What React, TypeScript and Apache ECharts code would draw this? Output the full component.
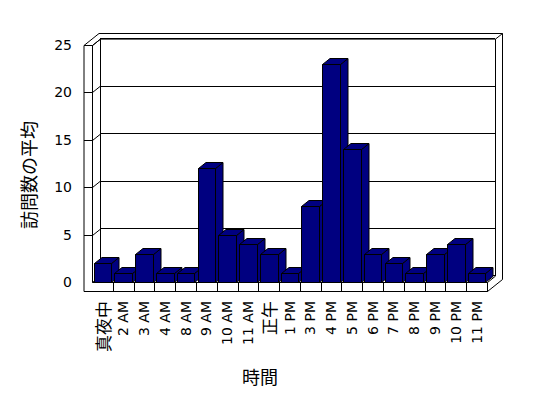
import React, { useEffect, useRef } from "react";
import * as echarts from "echarts";

const categories = [
  "真夜中", "2 AM", "3 AM", "4 AM", "8 AM", "9 AM", "10 AM", "11 AM", "正午",
  "1 PM", "3 PM", "4 PM", "5 PM", "6 PM", "7 PM", "8 PM", "9 PM", "10 PM", "11 PM",
];
const visits = [2, 1, 3, 1, 1, 12, 5, 4, 3, 1, 8, 23, 14, 3, 2, 1, 3, 4, 1];
const yTicks = [0, 5, 10, 15, 20, 25];
const yAxisTitle = "訪問数の平均";
const xAxisTitle = "時間";

// 3D geometry (pixels)
const DX = 8; // front plane -> back plane
const DY = 6.4;
const WALL = 8.5; // left wall thickness
const FLOOR = 9; // floor thickness
const EX = 7; // back wall thickness
const EY = 5.6;
const BDX = 7.5; // bar depth
const BDY = 6;
const BAR_RATIO = 0.85;

const LINE = { stroke: "#000", lineWidth: 1 };
const seg = (x1: number, y1: number, x2: number, y2: number) => ({
  type: "line",
  shape: { x1, y1, x2, y2 },
  style: LINE,
});

export default function App() {
  const ref = useRef<HTMLDivElement>(null);
  useEffect(() => {
    document.body.style.margin = "0";
    const chart = echarts.init(ref.current!, null, { renderer: "svg" });
    const option: any = {
      animation: false,
      backgroundColor: "#fff",
      grid: [
        { left: 92, top: 45, width: 395, height: 237, outerBoundsMode: "none" },
        { left: 92 + DX, top: 45 - DY, width: 395, height: 237, outerBoundsMode: "none" },
      ],
      xAxis: [
        {
          type: "category",
          gridIndex: 0,
          data: categories,
          axisLine: { show: false },
          axisTick: { show: false },
          splitLine: { show: false },
          axisLabel: {
            rotate: 90,
            margin: 19,
            interval: 0,
            color: "#000",
            fontFamily: "DejaVu Sans",
            fontSize: 14,
            formatter: (v: string) => (/[^\x00-\x7F]/.test(v) ? `{cjk|${v}}` : v),
            rich: {
              cjk: { fontFamily: "Noto Sans CJK JP", fontSize: 17, color: "#000" },
            },
          },
        },
        { type: "category", gridIndex: 1, data: categories, show: false },
      ],
      yAxis: [
        {
          type: "value",
          gridIndex: 0,
          min: 0,
          max: 25,
          interval: 5,
          axisLine: { show: false },
          axisTick: { show: false },
          splitLine: { show: false },
          axisLabel: { margin: 20, color: "#000", fontSize: 14, fontFamily: "DejaVu Sans" },
        },
        {
          type: "value",
          gridIndex: 1,
          min: 0,
          max: 25,
          interval: 5,
          axisLine: { show: false },
          axisTick: { show: false },
          axisLabel: { show: false },
          splitLine: { show: true, lineStyle: { color: "#000", width: 1 } },
        },
      ],
      graphic: [
        {
          type: "text",
          x: 28,
          y: 175,
          rotation: Math.PI / 2,
          style: {
            text: yAxisTitle,
            fontFamily: "Noto Sans CJK JP",
            fontSize: 18,
            fill: "#000",
            align: "center",
            verticalAlign: "middle",
            textAlign: "center",
            textVerticalAlign: "middle",
          },
        },
        {
          type: "text",
          x: 260,
          y: 376,
          style: {
            text: xAxisTitle,
            fontFamily: "Noto Sans CJK JP",
            fontSize: 18,
            fill: "#000",
            align: "center",
            verticalAlign: "middle",
            textAlign: "center",
            textVerticalAlign: "middle",
          },
        },
      ],
      series: [
        {
          type: "custom",
          name: "frame",
          xAxisIndex: 0,
          yAxisIndex: 0,
          z: 1,
          silent: true,
          clip: false,
          data: [[0, 0]],
          renderItem: (params: any) => {
            const cs = params.coordSys;
            const X0 = cs.x + 0.5, X1 = cs.x + cs.width + 0.5;
            const Y0 = cs.y + 0.5, Y1 = cs.y + cs.height + 0.5;
            const BX0 = X0 + DX, BX1 = X1 + DX, BY0 = Y0 - DY, BY1 = Y1 - DY;
            const OX0 = X0 - WALL;
            return {
              type: "group",
              children: [
                seg(OX0, Y0, OX0, Y1 + FLOOR),
                seg(X0, Y0, X0, Y1),
                seg(OX0, Y0, X0, Y0),
                seg(OX0, Y0, OX0 + DX + EX, Y0 - DY - EY),
                seg(X0, Y0, BX0, BY0),
                seg(OX0 + DX + EX, BY0 - EY, BX1 + EX, BY0 - EY),
                seg(BX0, BY0, BX1, BY0),
                seg(BX0, BY0, BX0, BY1),
                seg(BX1, BY0, BX1, BY1),
                seg(BX1, BY0, BX1 + EX, BY0 - EY),
                seg(BX1 + EX, BY0 - EY, BX1 + EX, Y1 + FLOOR - DY - EY),
                seg(X0, Y1, X1, Y1),
                seg(OX0, Y1 + FLOOR, X1, Y1 + FLOOR),
                seg(X1, Y1, X1, Y1 + FLOOR),
                seg(X1, Y1, BX1, BY1),
                seg(X1, Y1 + FLOOR, BX1 + EX, Y1 + FLOOR - DY - EY),
                seg(X0, Y1, BX0, BY1),
              ],
            };
          },
        },
        {
          type: "custom",
          name: "wallTicks",
          xAxisIndex: 0,
          yAxisIndex: 0,
          z: 1,
          silent: true,
          clip: false,
          data: yTicks.filter((v) => v > 0).map((v) => [0, v]),
          renderItem: (params: any, api: any) => {
            const cs = params.coordSys;
            const X0 = cs.x + 0.5;
            const y = Math.round(api.coord([0, api.value(1)])[1]) + 0.5;
            return {
              type: "group",
              children: [seg(X0 - WALL, y, X0, y), seg(X0, y, X0 + DX, y - DY)],
            };
          },
        },
        {
          type: "custom",
          name: "floorTicks",
          xAxisIndex: 0,
          yAxisIndex: 0,
          z: 1,
          silent: true,
          clip: false,
          data: categories.map((_, i) => [i, 0]),
          renderItem: (params: any, api: any) => {
            const p = api.coord([api.value(0), 0]);
            const bw = api.size([1, 0])[0];
            const x = Math.round(p[0] + bw / 2) + 0.5;
            const y = Math.round(p[1]) + 0.5;
            return seg(x, y, x, y + FLOOR);
          },
        },
        {
          type: "custom",
          name: "訪問数の平均",
          xAxisIndex: 0,
          yAxisIndex: 0,
          z: 3,
          clip: false,
          data: visits.map((v, i) => [i, v]),
          renderItem: (params: any, api: any) => {
            const idx = api.value(0);
            const val = api.value(1);
            const top = api.coord([idx, val]);
            const base = api.coord([idx, 0]);
            const bw = api.size([1, 0])[0] * BAR_RATIO;
            const l = Math.round(top[0] - bw / 2) + 0.5;
            const r = Math.round(top[0] + bw / 2) + 0.5;
            const t = Math.round(top[1]) + 0.5;
            const b = Math.round(base[1]) + 0.5;
            const style = { fill: "#000080", stroke: "#000", lineWidth: 1 };
            return {
              type: "group",
              children: [
                {
                  type: "polygon",
                  shape: { points: [[r, t], [r + BDX, t - BDY], [r + BDX, b - BDY], [r, b]] },
                  style,
                },
                {
                  type: "polygon",
                  shape: { points: [[l, t], [l + BDX, t - BDY], [r + BDX, t - BDY], [r, t]] },
                  style,
                },
                { type: "rect", shape: { x: l, y: t, width: r - l, height: b - t }, style },
              ],
            };
          },
        },
      ],
    };
    chart.setOption(option);
    return () => chart.dispose();
  }, []);
  return <div ref={ref} style={{ width: 548, height: 398 }} />;
}
